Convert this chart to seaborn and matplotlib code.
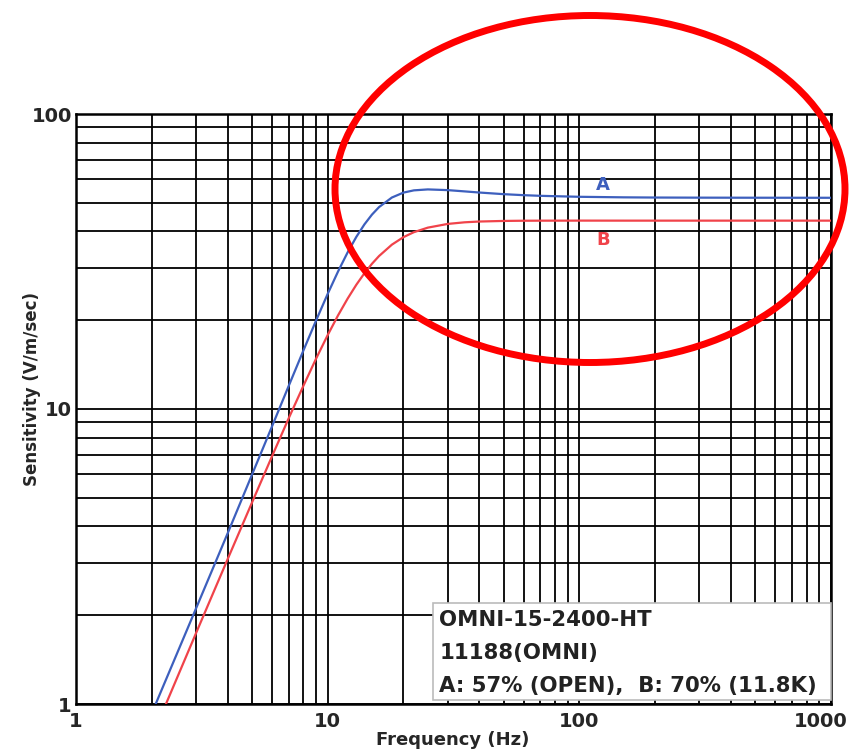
import numpy as np
import pandas as pd
import matplotlib
matplotlib.use("Agg")
import matplotlib.pyplot as plt
import matplotlib.transforms as mtransforms
import seaborn as sns
from matplotlib.patches import Ellipse, Rectangle
from matplotlib.ticker import LogLocator, NullFormatter


# ----------------------------- data
freq = [1.8, 2, 3, 4, 5, 6, 7, 8, 9, 10, 11, 12, 13, 14, 15, 16, 18, 20, 22, 25,
        30, 35, 40, 50, 60, 70, 100, 150, 200, 300, 500, 1000]
sens_a = [0.75, 0.93, 2.11, 3.78, 5.98, 8.70, 11.97, 15.75, 19.98, 24.55,
          29.27, 33.94, 38.33, 42.26, 45.61, 48.35, 52.11, 54.14, 55.10, 55.51,
          55.20, 54.66, 54.18, 53.49, 53.07, 52.80, 52.40, 52.18, 52.10, 52.05,
          52.02, 52.00]
sens_b = [0.63, 0.77, 1.74, 3.09, 4.81, 6.89, 9.30, 11.96, 14.83, 17.80,
          20.78, 23.66, 26.38, 28.86, 31.07, 33.00, 36.07, 38.24, 39.75, 41.19,
          42.40, 42.94, 43.20, 43.40, 43.47, 43.49, 43.51, 43.50, 43.50, 43.50,
          43.50, 43.50]
curve_names = ["A", "B"]
curve_colors = ["#3d5fbd", "#f0434a"]
label_pos = [(124, 57.5), (124, 37.4)]
x_ticks = [1, 10, 100, 1000]
y_ticks = [1, 10, 100]
info_lines = ["OMNI-15-2400-HT", "11188(OMNI)", "A: 57% (OPEN),  B: 70% (11.8K)"]

df = pd.DataFrame({
    "Frequency": freq * 2,
    "Sensitivity": sens_a + sens_b,
    "Curve": ["A"] * len(freq) + ["B"] * len(freq),
})

# ----------------------------- figure
sns.set_style("white")
plt.rcParams["font.family"] = ["DejaVu Sans"]

fig = plt.figure(figsize=(8.51, 7.51), dpi=100)
ax = fig.add_axes([76 / 851, 1 - 704 / 751, 755 / 851, 590 / 751])

sns.lineplot(data=df, x="Frequency", y="Sensitivity", hue="Curve",
             palette=dict(zip(curve_names, curve_colors)), linewidth=1.6,
             legend=False, ax=ax, zorder=3)

ax.set_xscale("log")
ax.set_yscale("log")
ax.set_xlim(1, 1000)
ax.set_ylim(1, 100)

ax.set_xticks(x_ticks, labels=[str(t) for t in x_ticks])
ax.set_yticks(y_ticks, labels=[str(t) for t in y_ticks])
ax.xaxis.set_minor_locator(LogLocator(base=10, subs=np.arange(2, 10)))
ax.yaxis.set_minor_locator(LogLocator(base=10, subs=np.arange(2, 10)))
ax.xaxis.set_minor_formatter(NullFormatter())
ax.yaxis.set_minor_formatter(NullFormatter())
ax.tick_params(which="both", direction="in", length=3, width=1, color="black")
ax.tick_params(axis="x", which="major", pad=6, labelsize=14)
ax.tick_params(axis="y", which="major", pad=3, labelsize=14)
for lab in ax.get_xticklabels() + ax.get_yticklabels():
    lab.set_fontweight("bold")
# last x label sits a bit left of its tick, inside the picture
last = ax.get_xticklabels()[-1]
last.set_transform(last.get_transform() +
                   mtransforms.ScaledTranslation(-10 / 100, 0, fig.dpi_scale_trans))

ax.grid(which="both", color="black", linewidth=1.3)
ax.set_axisbelow(True)
for s in ax.spines.values():
    s.set_color("black")
    s.set_linewidth(1.8)

ax.set_xlabel("")
ax.set_ylabel("")
fig.text(453 / 851, 1 - 740 / 751, "Frequency (Hz)", ha="center", va="center",
         fontsize=13, fontweight="bold")
fig.text(32 / 851, 1 - 389 / 751, "Sensitivity (V/m/sec)", ha="center", va="center",
         rotation=90, fontsize=12, fontweight="bold")

# curve labels
for name, col, (lx, ly) in zip(curve_names, curve_colors, label_pos):
    ax.text(lx, ly, name, color=col, fontsize=13, fontweight="bold",
            ha="center", va="center", zorder=4)

# info box
ax.add_patch(Rectangle((0.473, 0.007), 0.527, 0.164, transform=ax.transAxes,
                       facecolor="white", edgecolor="#bbbbbb", linewidth=1.2,
                       zorder=5, clip_on=False))
for txt, yy in zip(info_lines, [0.142, 0.0864, 0.0305]):
    ax.text(0.481, yy, txt, transform=ax.transAxes, fontsize=15.3,
            fontweight="bold", color="#222222", ha="left", va="center", zorder=6)

# red highlight ellipse
ell = Ellipse((590 / 851, 1 - 189 / 751), 510 / 851, 347 / 751,
              transform=fig.transFigure, fill=False, edgecolor="#ff0000",
              linewidth=5.0, zorder=10, clip_on=False)
fig.patches.append(ell)

fig.savefig("out.png", dpi=100)
